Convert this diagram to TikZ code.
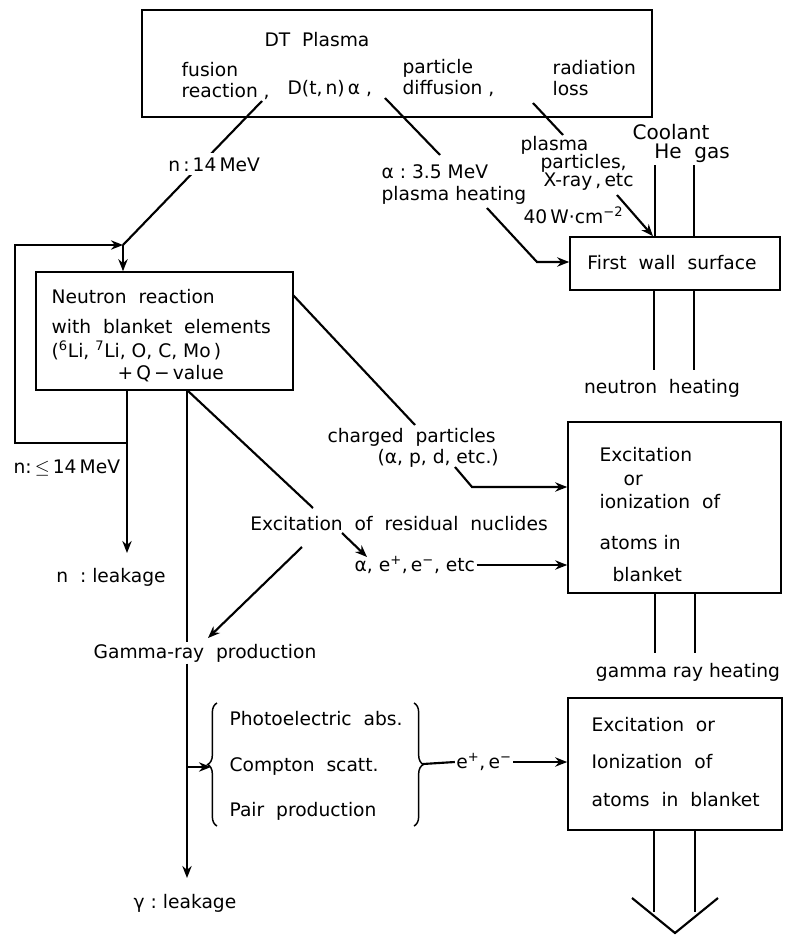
\documentclass[tikz,border=0pt]{standalone}
\usepackage{fontspec}
\setmainfont{DejaVu Sans}
\usetikzlibrary{positioning,calc,fit,arrows.meta,decorations.pathreplacing}

\begin{document}
\begin{tikzpicture}[x=0.75pt,y=-0.75pt,
  every node/.style={font=\fontsize{14}{16}\selectfont, inner sep=1pt},
  box/.style={draw, line width=1.2pt, inner sep=0pt},
  txt/.style={anchor=west, align=left},
  ln/.style={line width=1.6pt},
  arr/.style={line width=1.6pt, -{Stealth[length=9pt,width=7pt]}},
  brc/.style={line width=1.1pt, decorate, decoration={brace, amplitude=7pt}}]
\useasboundingbox (0,0) rectangle (793,935);

% boxes
\node[box, fit={(142,10) (652,117)}] (plasma) {};
\node[box, fit={(36,272) (293,390)}] (neut) {};
\node[box, fit={(570,237) (780,290)}] (fw) {};
\node[box, fit={(568,422) (781,593)}] (exc1) {};
\node[box, fit={(568,698) (782,830)}] (exc2) {};

% plasma box text
\node (dt) at (317,40) {DT\ \ Plasma};
\node[txt] (fus) at (180,81) {fusion\\reaction ,};
\node[txt] (dtn) at (286,89) {D(t,\,n)\,α ,};
\node[txt] (pdif) at (401,78) {particle\\diffusion\ ,};
\node[txt] (rad) at (551,78) {radiation\\loss};

% neutron box text
\node[txt] (nr1) at (50,297) {Neutron\ \ reaction};
\node[txt] (nr2) at (50,327) {with\ \ blanket\ \ elements};
\node[txt] (nr3) at (50,350) {(\textsuperscript{6}Li,\ \textsuperscript{7}Li,\ O,\ C,\ Mo\,)};
\node[txt] (nr4) at (116,374) {+\,Q\,−\,value};

% first wall
\node (fwt) at (672,263) {First\ \ wall\ \ surface};
\node[font=\fontsize{15}{17}\selectfont] (cool) at (671,132) {Coolant};
\node[font=\fontsize{15}{17}\selectfont] (hegas) at (692,153) {He\ \ gas};
\node (nheat) at (662,388) {neutron\ \ heating};
\draw[ln] (655,165) -- (fw.north -| 655,0);
\draw[ln] (694,165) -- (fw.north -| 694,0);
\draw[ln] (fw.south -| 654,0) -- (654,370);
\draw[ln] (fw.south -| 694,0) -- (694,370);

% excitation boxes text
\node[txt] (e1a) at (598,455) {Excitation};
\node[txt] (e1b) at (622,480) {or};
\node[txt] (e1c) at (598,502) {ionization\ \ of};
\node[txt] (e1d) at (598,543) {atoms\ in};
\node[txt] (e1e) at (611,575) {blanket};
\node (gheat) at (688,672) {gamma\ ray\ heating};
\draw[ln] (exc1.south -| 655,0) -- (655,653);
\draw[ln] (exc1.south -| 695,0) -- (695,653);

\node[txt] (e2a) at (590,725) {Excitation\ \ or};
\node[txt] (e2b) at (590,762) {Ionization\ \ of};
\node[txt] (e2c) at (590,800) {atoms\ \ in\ \ blanket};
\draw[ln] (exc2.south -| 654,0) -- (654,912);
\draw[ln] (exc2.south -| 695,0) -- (695,912);
\draw[ln] (632,898) -- (675,933) -- (718,898);

% fusion neutrons
\coordinate (f0) at (262,101);
\coordinate (nj) at (123,245);
\draw[ln] (f0) -- node[pos=0.44, xshift=10pt, fill=white, inner sep=3pt] (n14) {n\,:\,14\,MeV} (nj);
\draw[arr] (nj) -- (nj |- neut.north);

% alpha heating
\coordinate (a0) at (385,98);
\coordinate (a1) at (440,155);
\coordinate (a2) at (487,208);
\coordinate (a3) at (537,262);
\draw[ln] (a0) -- (a1);
\node[txt] (al1) at (380,172) {α\ :\ 3.5\ MeV};
\node[txt] (al2) at (380,195) {plasma\ heating};
\draw[arr] (a2) -- (a3) -- (fw.west |- a3);

% plasma particles
\coordinate (p0) at (533,103);
\coordinate (p1) at (563,135);
\coordinate (p2) at (617,195);
\draw[ln] (p0) -- (p1);
\node[txt] (pp1) at (519,145) {plasma};
\node[txt] (pp2) at (539,163) {particles,};
\node[txt] (pp3) at (542,182) {X-ray\,,\,etc};
\node[txt] (wcm) at (522,215) {40\,W·cm\textsuperscript{−2}};
\draw[arr] (p2) -- (fw.north -| 653,0);

% loop and leakage
\coordinate (lk1) at (127,443);
\coordinate (lk2) at (15,245);
\coordinate (lk3) at (127,553);
\draw[arr] (lk1) -| (lk2) -- (nj);
\draw[arr] (neut.south -| lk1) -- (lk3);
\node[txt] (nle) at (12,468) {n:\,$\leq$\,14\,MeV};
\node (nleak) at (111,577) {n\ \ :\ leakage};

% charged particles
\coordinate (c0) at (293,295);
\coordinate (c1) at (415,425);
\coordinate (c2) at (455,467);
\coordinate (c3) at (472,487);
\draw[ln] (c0) -- (c1);
\node[txt] (ch1) at (326,437) {charged\ \ particles};
\node[txt] (ch2) at (376,458) {(α,\ p,\ d,\ etc.)};
\draw[arr] (c2) -- (c3) -- (exc1.west |- c3);

% residual nuclides
\coordinate (gs) at (187,390);
\coordinate (r1) at (313,508);
\coordinate (r2) at (302,547);
\coordinate (r3) at (208,638);
\coordinate (r4) at (342,533);
\coordinate (r5) at (367,557);
\draw[ln] (gs) -- (r1);
\node (resid) at (399,524) {Excitation\ \ of\ \ residual\ \ nuclides};
\draw[arr] (r2) -- (r3);
\draw[arr] (r4) -- (r5);
\node[txt] (aep) at (353,565) {α,\ e\textsuperscript{+},\,e\textsuperscript{−},\ etc};
\draw[arr] (aep.east) -- (exc1.west |- aep.east);

% gamma rays
\node (gprod) at (205,653) {Gamma-ray\ \ production};
\draw[ln] (gs) -- (gs |- gprod.north);
\coordinate (g1) at (187,878);
\draw[arr] (gprod.south -| gs) -- (g1);
\node (gleak) at (185,903) {γ\ :\ leakage};
\node[txt] (procs) at (228,766) {Photoelectric\ \ abs.\\[18pt]Compton\ \ scatt.\\[18pt]Pair\ \ production};
\draw[brc] (217,826) -- (217,703);
\draw[brc] (414,703) -- (414,826);
\coordinate (gb) at (187,767);
\draw[arr] (gb) -- (211,767);
\node (eep) at (484,762) {e\textsuperscript{+},\,e\textsuperscript{−}};
\draw[ln] (423,764) -- (eep.west);
\draw[arr] (eep.east) -- (exc2.west |- eep.east);
\end{tikzpicture}
\end{document}
